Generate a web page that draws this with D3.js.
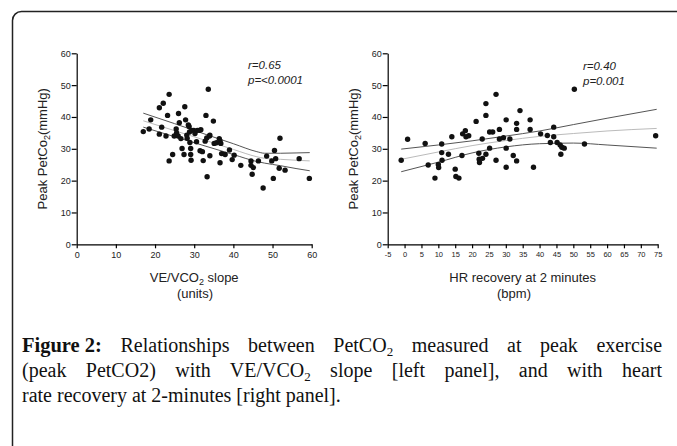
<!DOCTYPE html>
<html>
<head>
<meta charset="utf-8">
<script src="https://cdn.jsdelivr.net/npm/d3@7"></script>
<style>
  body { margin: 0; background: #fff; }
  svg { display: block; }
</style>
</head>
<body>
<svg id="fig" width="677" height="446"></svg>
<script>
// left panel: VE/VCO2 slope vs peak PetCO2
var leftPoints = [
  [17.0,35.4],[18.5,36.2],[18.9,39.1],[21.1,42.9],[22.1,44.3],[23.6,47.1],[21.1,34.6],[21.7,36.8],
  [22.8,34.0],[23.2,40.5],[23.6,26.2],[24.5,28.2],[24.9,34.0],[25.4,36.2],[25.5,35.0],[25.9,34.0],
  [26.0,41.1],[26.2,38.2],[26.6,33.2],[26.9,30.1],[27.4,28.2],[27.6,43.2],[27.8,39.1],[28.1,34.3],
  [28.2,33.3],[28.5,37.5],[28.7,37.0],[28.9,32.0],[29.1,30.1],[29.1,28.2],[29.2,26.4],[28.8,35.3],
  [29.4,35.8],[29.9,35.8],[30.2,34.8],[30.6,32.2],[30.8,35.8],[31.3,35.8],[31.7,36.0],[31.5,29.4],
  [32.1,29.1],[32.3,26.3],[32.8,32.4],[33.0,40.5],[33.2,33.4],[33.3,21.2],[33.6,48.7],[33.9,34.0],
  [34.0,34.3],[34.0,27.8],[34.9,38.7],[35.1,31.7],[35.7,31.9],[36.4,33.2],[36.6,32.5],[36.8,31.7],
  [36.6,25.6],[37.0,28.5],[37.9,28.2],[39.0,29.6],[39.7,26.6],[40.2,28.0],[41.9,24.8],[44.5,26.2],
  [44.5,24.8],[44.8,22.0],[45.1,24.1],[46.4,26.2],[47.6,17.7],[48.5,27.7],[49.8,26.2],[50.2,20.7],
  [50.5,29.5],[50.8,26.9],[51.9,33.3],[51.7,23.9],[53.2,23.3],[56.8,26.9],[59.4,20.7]
];
var leftFitX     = [17, 25, 33, 40, 46, 48, 52, 56, 59.5];
var leftFitMid   = [38.8, 35.7, 32.6, 29.8, 27.5, 27.0, 26.7, 26.4, 26.2];
var leftFitUpper = [41.2, 37.9, 34.5, 31.6, 29.1, 28.6, 28.6, 28.7, 28.8];
var leftFitLower = [36.8, 33.8, 30.8, 28.2, 26.0, 25.5, 24.7, 23.8, 23.1];
var leftXTicks = [0, 10, 20, 30, 40, 50, 60];

// right panel: HR recovery vs peak PetCO2
var rightPoints = [
  [-1.0,26.4],[0.9,33.0],[6.1,31.7],[7.0,24.9],[9.0,20.8],[10.0,25.1],[10.1,24.1],[11.0,31.5],
  [11.0,28.8],[11.1,26.4],[13.0,28.3],[14.0,33.8],[15.0,23.6],[15.2,21.3],[16.1,20.8],[17.0,27.9],
  [17.2,34.7],[18.0,35.7],[18.2,33.8],[19.0,34.1],[21.2,38.6],[22.0,28.6],[22.1,26.7],[22.2,25.7],
  [23.0,33.1],[23.1,27.0],[24.1,44.2],[24.1,40.5],[24.1,28.3],[25.2,35.3],[25.2,30.2],[26.1,35.3],
  [27.1,47.1],[27.1,26.4],[28.1,36.1],[28.1,33.1],[29.3,33.5],[30.1,39.1],[30.1,30.2],[30.1,24.2],
  [31.2,33.1],[32.2,27.9],[33.2,38.0],[33.2,36.1],[33.2,26.2],[34.2,42.0],[37.2,39.1],[37.2,36.1],
  [38.2,24.2],[40.3,34.7],[42.3,34.2],[43.2,32.0],[44.2,36.8],[44.2,33.8],[45.2,32.0],[46.1,31.2],
  [46.3,28.3],[46.6,30.5],[47.3,30.2],[50.3,48.7],[53.3,31.5],[74.4,34.1]
];
var rightFitX     = [-1, 10, 20, 30, 40, 50, 60, 74.7];
var rightFitMid   = [26.7, 29.0, 31.0, 32.6, 33.9, 34.8, 35.6, 36.4];
var rightFitUpper = [29.9, 31.2, 32.5, 34.0, 35.6, 37.6, 39.6, 42.4];
var rightFitLower = [22.8, 25.8, 28.7, 30.6, 31.6, 31.8, 31.2, 30.2];
var rightXTicks = [-5, 0, 5, 10, 15, 20, 25, 30, 35, 40, 45, 50, 55, 60, 65, 70, 75];

var yTicks = [0, 10, 20, 30, 40, 50, 60];

var captionLabel = "Figure 2:";
var captionLines = [
  [{t: "Relationships between PetCO"}, {t: "2", sub: true}, {t: " measured at peak exercise"}],
  [{t: "(peak PetCO2) with VE/VCO"}, {t: "2", sub: true}, {t: " slope [left panel], and with heart"}],
  [{t: "rate recovery at 2-minutes [right panel]."}]
];

var svg = d3.select("#fig");
var sans = "'Liberation Sans', Arial, sans-serif";

// frame of the figure box
svg.append("rect")
  .attr("x", 12.5).attr("y", 11.5)
  .attr("width", 720).attr("height", 500)
  .attr("rx", 9)
  .attr("fill", "none")
  .attr("stroke", "#222")
  .attr("stroke-width", 1.5);

function panel(cfg) {
  var x = d3.scaleLinear().domain(cfg.xDomain).range(cfg.xRange);
  var y = d3.scaleLinear().domain([0, 60]).range([244.3, 53.3]);
  var g = svg.append("g");

  var yAxis = g.append("g")
    .attr("transform", "translate(" + cfg.xRange[0] + ",0)")
    .call(d3.axisLeft(y).tickValues(yTicks).tickSize(5).tickSizeOuter(0).tickPadding(1));
  var xAxis = g.append("g")
    .attr("transform", "translate(0," + y(0) + ")")
    .call(d3.axisBottom(x).tickValues(cfg.xTicks).tickSize(4).tickSizeOuter(0).tickPadding(3)
      .tickFormat(function(d) { return String(d); }));

  [yAxis, xAxis].forEach(function(a) {
    a.selectAll("path, line").attr("stroke", "#000").attr("stroke-width", 1.2);
    a.selectAll("text").attr("fill", "#222").attr("font-family", sans);
  });
  yAxis.selectAll("text").attr("font-size", 9);
  xAxis.selectAll("text").attr("font-size", cfg.xTickFont);

  // fit line and confidence band
  var line = d3.line().curve(d3.curveMonotoneX)
    .x(function(d) { return x(d[0]); })
    .y(function(d) { return y(d[1]); });
  [[cfg.fitUpper, "#555"], [cfg.fitLower, "#555"], [cfg.fitMid, "#bbb"]].forEach(function(f) {
    g.append("path")
      .datum(cfg.fitX.map(function(v, i) { return [v, f[0][i]]; }))
      .attr("d", line)
      .attr("fill", "none")
      .attr("stroke", f[1])
      .attr("stroke-width", 1);
  });

  g.selectAll(".dot")
    .data(cfg.points)
    .enter()
    .append("circle")
      .attr("cx", function(d) { return x(d[0]); })
      .attr("cy", function(d) { return y(d[1]); })
      .attr("r", 2.7)
      .attr("fill", "#111");

  // y title
  var yt = g.append("text")
    .attr("transform", "translate(" + cfg.yTitleX + "," + ((y(0) + y(60)) / 2) + ") rotate(-90)")
    .attr("text-anchor", "middle")
    .attr("font-family", sans)
    .attr("font-size", 13)
    .attr("fill", "#222");
  yt.append("tspan").text("Peak PetCo");
  yt.append("tspan").attr("font-size", 9).attr("dy", 3).text("2");
  yt.append("tspan").attr("dy", -3).text("(mmHg)");

  // x title
  var xt = g.append("text")
    .attr("x", (cfg.xRange[0] + cfg.xRange[1]) / 2)
    .attr("y", 281.5)
    .attr("text-anchor", "middle")
    .attr("font-family", sans)
    .attr("font-size", 13)
    .attr("fill", "#222");
  cfg.xTitle.forEach(function(s) {
    var ts = xt.append("tspan").text(s.t);
    if (s.sub) ts.attr("font-size", 9).attr("dy", 3);
    else if (s.after) ts.attr("dy", -3);
  });
  g.append("text")
    .attr("x", cfg.unitX)
    .attr("y", 297.5)
    .attr("text-anchor", "middle")
    .attr("font-family", sans)
    .attr("font-size", 13)
    .attr("fill", "#222")
    .text(cfg.unit);

  // stats
  cfg.stats.forEach(function(s, i) {
    g.append("text")
      .attr("x", cfg.statX)
      .attr("y", cfg.statY + i * 15)
      .attr("font-family", sans)
      .attr("font-style", "italic")
      .attr("font-size", 11.5)
      .attr("fill", "#222")
      .text(s);
  });
}

panel({
  xDomain: [0, 60], xRange: [76.7, 311.7], xTicks: leftXTicks, xTickFont: 9,
  points: leftPoints,
  fitX: leftFitX, fitMid: leftFitMid, fitUpper: leftFitUpper, fitLower: leftFitLower,
  yTitleX: 47,
  xTitle: [{t: "VE/VCO"}, {t: "2", sub: true}, {t: " slope", after: true}],
  unit: "(units)", unitX: 195,
  stats: ["r=0.65", "p=<0.0001"], statX: 248, statY: 69
});

panel({
  xDomain: [-5, 75], xRange: [387.7, 657.7], xTicks: rightXTicks, xTickFont: 7.5,
  points: rightPoints,
  fitX: rightFitX, fitMid: rightFitMid, fitUpper: rightFitUpper, fitLower: rightFitLower,
  yTitleX: 358,
  xTitle: [{t: "HR recovery at 2 minutes"}],
  unit: "(bpm)", unitX: 514,
  stats: ["r=0.40", "p=0.001"], statX: 583, statY: 70
});

// caption: bold label, then justified lines (word gaps widened to fill the box)
var serif = "'Liberation Serif', 'Times New Roman', serif";
var capLeft = 22, capRight = 662, capFont = 20;
var label = svg.append("text")
  .attr("x", capLeft).attr("y", 352)
  .attr("font-family", serif)
  .attr("font-size", 20.5)
  .attr("font-weight", "bold")
  .attr("fill", "#111")
  .text(captionLabel);
var labelW = label.node().getComputedTextLength();

captionLines.forEach(function(segs, i) {
  var t = svg.append("text")
    .attr("y", 352 + i * 25)
    .attr("font-family", serif)
    .attr("font-size", capFont)
    .attr("fill", "#111");
  segs.forEach(function(s, j) {
    var ts = t.append("tspan").text(s.t);
    if (s.sub) ts.attr("font-size", 13).attr("dy", 4);
    else if (j > 0 && segs[j - 1].sub) ts.attr("dy", -4);
  });
  var start = capLeft;
  if (i === 0) start = capLeft + labelW + capFont * 0.25;
  if (i < 2) {
    var w = t.node().getComputedTextLength();
    var gaps = segs.map(function(s) { return s.t; }).join("").split(" ").length - 1;
    var extra = (capRight - start - w) / (gaps + (i === 0 ? 1 : 0));
    if (i === 0) start += extra;
    t.attr("word-spacing", extra.toFixed(2));
  }
  t.attr("x", start);
});
</script>
</body>
</html>
